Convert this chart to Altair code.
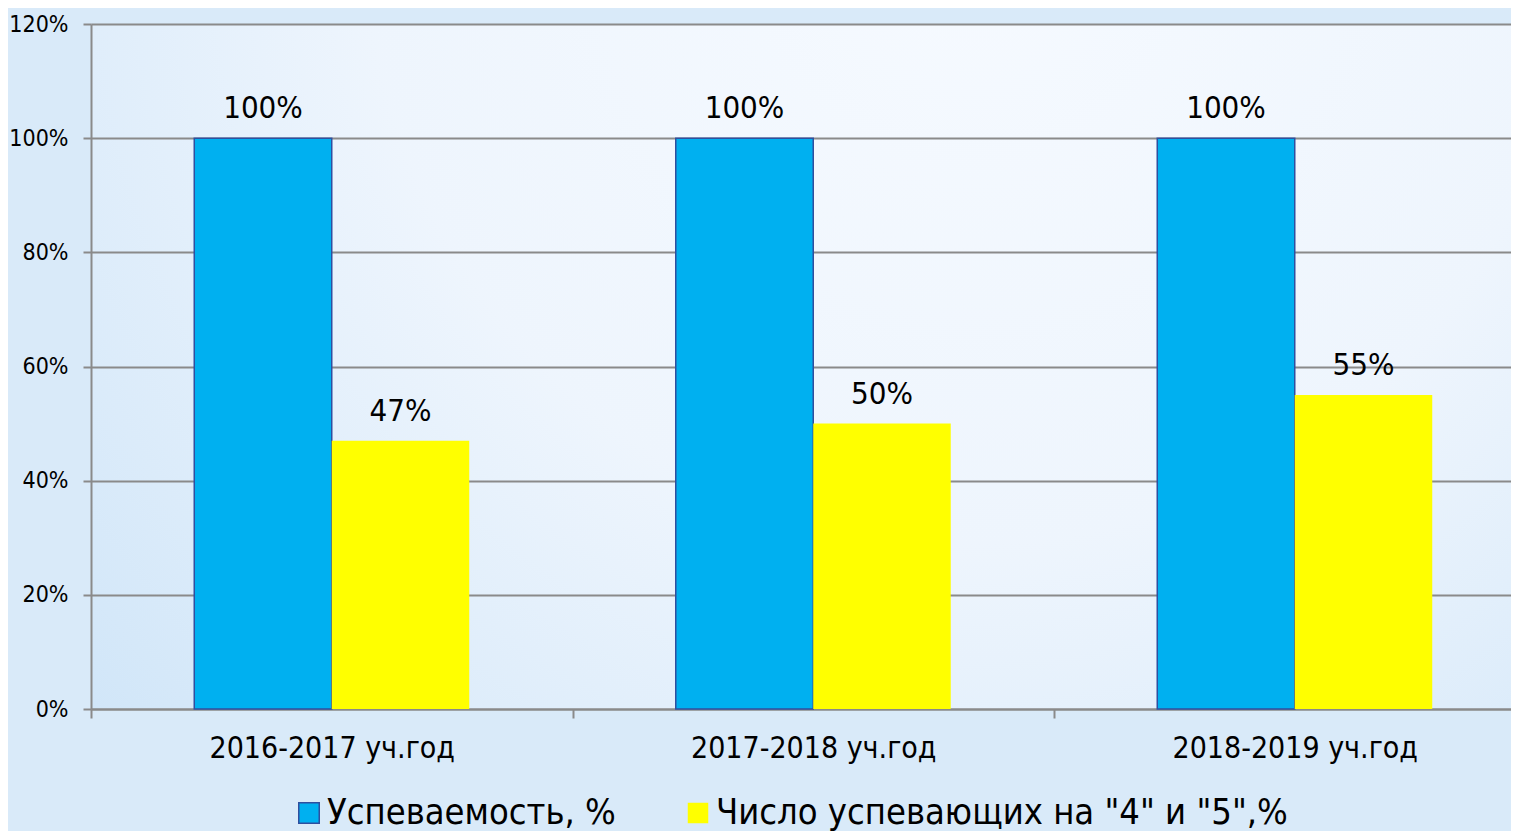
import altair as alt
import pandas as pd

years = ["2016-2017 уч.год", "2017-2018 уч.год", "2018-2019 уч.год"]
series = ["Успеваемость, %", 'Число успевающих на "4" и "5",%']
uspev = [1.00, 1.00, 1.00]
quality = [0.47, 0.50, 0.55]
y_ticks = [0, 0.2, 0.4, 0.6, 0.8, 1.0, 1.2]

rows = []
for i, yr in enumerate(years):
    rows.append({"year": yr, "series": series[0], "value": uspev[i]})
    rows.append({"year": yr, "series": series[1], "value": quality[i]})
df = pd.DataFrame(rows)

FONT = "DejaVu Sans Condensed, DejaVu Sans, sans-serif"
GRID = "#8a8a8a"

x_enc = alt.X(
    "year:N", sort=years, title=None,
    scale=alt.Scale(range=[0, 1444.5], paddingInner=0, paddingOuter=0),
    axis=alt.Axis(labelAngle=0, tickBand="extent", tickSize=9, tickColor=GRID,
                  tickWidth=2, domainColor=GRID, domainWidth=2,
                  labelFont=FONT, labelFontSize=30, labelColor="#000000",
                  labelPadding=15, labelLimit=600, grid=False),
)
xoff = alt.XOffset("series:N", sort=series,
                   scale=alt.Scale(paddingInner=0, paddingOuter=0.751))
y_enc = alt.Y(
    "value:Q", title=None,
    scale=alt.Scale(domain=[0, 1.2], nice=False),
    axis=alt.Axis(values=y_ticks, format=".0%", tickSize=8, tickColor=GRID,
                  tickWidth=2, domainColor=GRID, domainWidth=2,
                  gridColor=GRID, gridWidth=2, gridOpacity=1,
                  labelFont=FONT, labelFontSize=23, labelColor="#000000",
                  labelPadding=15),
)

bars = alt.Chart(df).mark_bar(strokeWidth=1.5).encode(
    x=x_enc,
    xOffset=xoff,
    y=y_enc,
    color=alt.Color("series:N", sort=series, title=None,
                    scale=alt.Scale(domain=series, range=["#00B0F0", "#FFFF00"]),
                    legend=alt.Legend(orient="none", direction="horizontal",
                                      legendX=200, legendY=771,
                                      symbolType="square", symbolSize=420,
                                      symbolStrokeWidth=1.5,
                                      labelFont=FONT, labelFontSize=36,
                                      labelColor="#000000", labelOffset=0,
                                      columnPadding=64, padding=0,
                                      labelLimit=800)),
    stroke=alt.Stroke("series:N", sort=series, title=None,
                      scale=alt.Scale(domain=series, range=["#2F4F9F", "transparent"])),
)

labels = alt.Chart(df).mark_text(
    baseline="alphabetic", dy=-20, font=FONT, fontSize=31, color="#000000"
).encode(
    x=alt.X("year:N", sort=years),
    xOffset=alt.XOffset("series:N", sort=series),
    y=alt.Y("value:Q"),
    text=alt.Text("value:Q", format=".0%"),
)

grad = ("{gradient:'radial', x1:0.62, y1:0.2, r1:0, x2:0.62, y2:0.2, r2:0.85, "
        "stops:[{offset:0, color:'#f6faff'}, {offset:0.5, color:'#eef5fd'}, "
        "{offset:1, color:'#cfe5f8'}]}")

chart = alt.layer(bars, labels).properties(
    width=1420, height=685,
    autosize=alt.AutoSizeParams(type="none"),
    padding={"left": 83, "top": 16, "right": 0, "bottom": 122},
    background="#d9eaf9",
).configure_view(stroke=None, fill={"expr": grad})

chart.save("out.html", embed_options={"renderer": "svg", "actions": False})
